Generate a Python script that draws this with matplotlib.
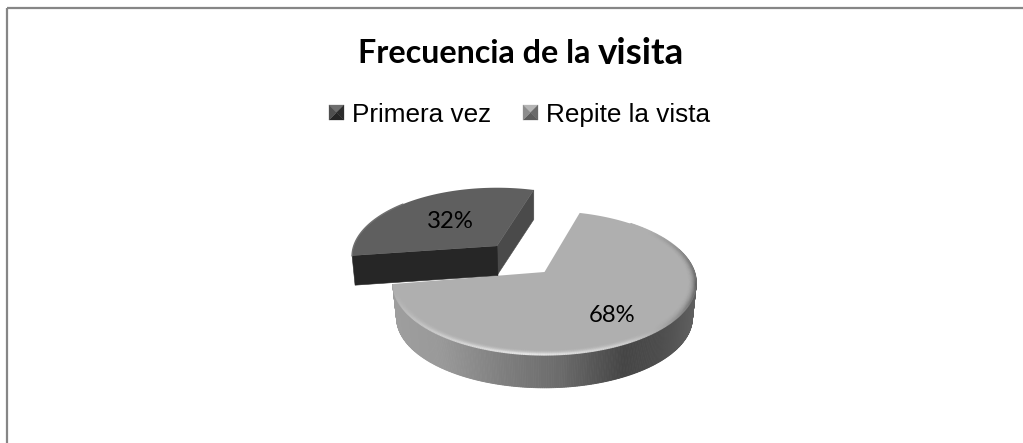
import numpy as np
import matplotlib
matplotlib.use("Agg")
import matplotlib.pyplot as plt
from matplotlib.patches import Polygon, Rectangle
from matplotlib.collections import LineCollection

title_main = "Frecuencia de la"
title_tail = "visita"
categories = ["Primera vez", "Repite la vista"]
shares = [32, 68]
labels = ["32%", "68%"]

W, H = 1023, 443
fig = plt.figure(figsize=(W / 100, H / 100), dpi=100, facecolor="white")
ax = fig.add_axes([0, 0, 1, 1])
ax.set_xlim(0, W)
ax.set_ylim(H, 0)
ax.axis("off")

# frame
ax.add_patch(Rectangle((7, 8), W - 7 + 5, H - 8 + 5, fill=False, ec="#868686", lw=1.6))

# perspective projection of the pie disc
RX, RY, K = 150.0, 70.3, 0.152
START = 15.6


def project(theta_deg, cx, cy, scale=1.0, r=1.0):
    t = np.radians(theta_deg)
    x, y = r * np.sin(t), r * np.cos(t)
    s = 1 / (1 + K * y)
    return cx + scale * RX * x * s, cy - scale * RY * y * s


sweeps = 360 * np.array(shares) / sum(shares)
a_light0 = START
a_light1 = START + sweeps[1]
a_dark0 = a_light1 + 1.5
a_dark1 = a_dark0 + sweeps[0]

# ---- light slice
CX, CY, D = 544.5, 272.0, 35.0
ths = np.linspace(a_light0, a_light1, 400)
px, py = project(ths, CX, CY)

# visible side wall, as a strip with a horizontal gradient
stops_x = [393, 440, 500, 560, 625, 660, 698]
stops_v = [0.62, 0.60, 0.50, 0.42, 0.27, 0.30, 0.38]
vis = (ths > 70) & (ths < 272)
vx, vy = px[vis], py[vis]
bx, by = project(ths[vis], CX, CY + D, scale=0.975)
for i in range(len(vx) - 1):
    xm = 0.5 * (vx[i] + vx[i + 1])
    g = np.interp(xm, stops_x, stops_v)
    ax.add_patch(Polygon([(vx[i], vy[i]), (vx[i + 1], vy[i + 1]),
                          (bx[i + 1], by[i + 1]), (bx[i], by[i])],
                         closed=True, fc=str(g), ec=str(g), lw=0.6, zorder=2))

# top face
ax.add_patch(Polygon(np.vstack([[CX, CY], np.c_[px, py]]), closed=True,
                     fc="#afafaf", ec="none", zorder=3))

# soft bevel on the rim: shade on the right, highlight along the lower edge
BASE = 0xaf / 255
bevel_t = np.linspace(40, 260, 300)
dark_amt = np.clip(1 - np.abs(bevel_t - 100) / 50, 0, 1)
light_amt = np.clip(1 - np.abs(bevel_t - 185) / 70, 0, 1)
for r in np.linspace(0.955, 0.998, 9):
    w = ((r - 0.95) / 0.05) ** 2
    bx2, by2 = project(bevel_t, CX, CY, r=r)
    pts = np.c_[bx2, by2]
    segs = np.stack([pts[:-1], pts[1:]], axis=1)
    g = BASE + w * (0.92 - BASE) * light_amt[:-1] + w * (0.36 - BASE) * dark_amt[:-1]
    cols = np.c_[g, g, g]
    ax.add_collection(LineCollection(segs, colors=cols, linewidths=1.3, zorder=4))

# ---- exploded dark slice
DX, DY, DS, DD = 497.0, 246.0, 0.955, 29.5
tht = np.linspace(a_dark0, a_dark1, 200)
qx, qy = project(tht, DX, DY, scale=DS)
# right cut face
ax.add_patch(Polygon([(DX, DY), (qx[-1], qy[-1]), (qx[-1], qy[-1] + DD), (DX, DY + DD)],
                     closed=True, fc="#4a4a4a", ec="#4a4a4a", lw=0.4, zorder=5))
# front cut face
ax.add_patch(Polygon([(qx[0], qy[0]), (DX, DY), (DX + 1, DY + DD), (qx[0] + 3, qy[0] + DD)],
                     closed=True, fc="#262626", ec="#262626", lw=0.4, zorder=5))
# top face
ax.add_patch(Polygon(np.vstack([[DX, DY], np.c_[qx, qy]]), closed=True,
                     fc="#5f5f5f", ec="none", zorder=6))
ax.plot(qx[:90], qy[:90], color="#707070", lw=1.0, zorder=7)

# data labels
ax.text(450, 221, labels[0], fontsize=17.2, family="Lato", color="black",
        ha="center", va="center", zorder=8)
ax.text(612, 316, labels[1], fontsize=17.2, family="Lato", color="black",
        ha="center", va="center", zorder=8)

# title
ax.text(358, 53, title_main, fontsize=23.2, family="Lato", weight="bold",
        ha="left", va="center", color="black")
ax.text(598, 53, title_tail, fontsize=26.5, family="Lato", weight="bold",
        ha="left", va="center", color="black")


# legend with bevelled pyramid swatches
def swatch(x0, y0, s, cols):
    cx, cy = x0 + s / 2, y0 + s / 2
    c = [(x0, y0), (x0 + s, y0), (x0 + s, y0 + s), (x0, y0 + s)]
    for i in range(4):
        ax.add_patch(Polygon([c[i], c[(i + 1) % 4], (cx, cy)], closed=True,
                             fc=cols[i], ec=cols[i], lw=0.2))


swatch(329, 105, 15, ["#6e6e6e", "#2c2c2c", "#262626", "#4f4f4f"])
swatch(523, 105, 15, ["#b5b5b5", "#6a6a6a", "#5c5c5c", "#8c8c8c"])
ax.text(352, 115, categories[0], fontsize=18.8, family="Liberation Sans",
        ha="left", va="center", color="black")
ax.text(546, 115, categories[1], fontsize=18.8, family="Liberation Sans",
        ha="left", va="center", color="black")

fig.savefig("out.png", dpi=100, facecolor="white")
